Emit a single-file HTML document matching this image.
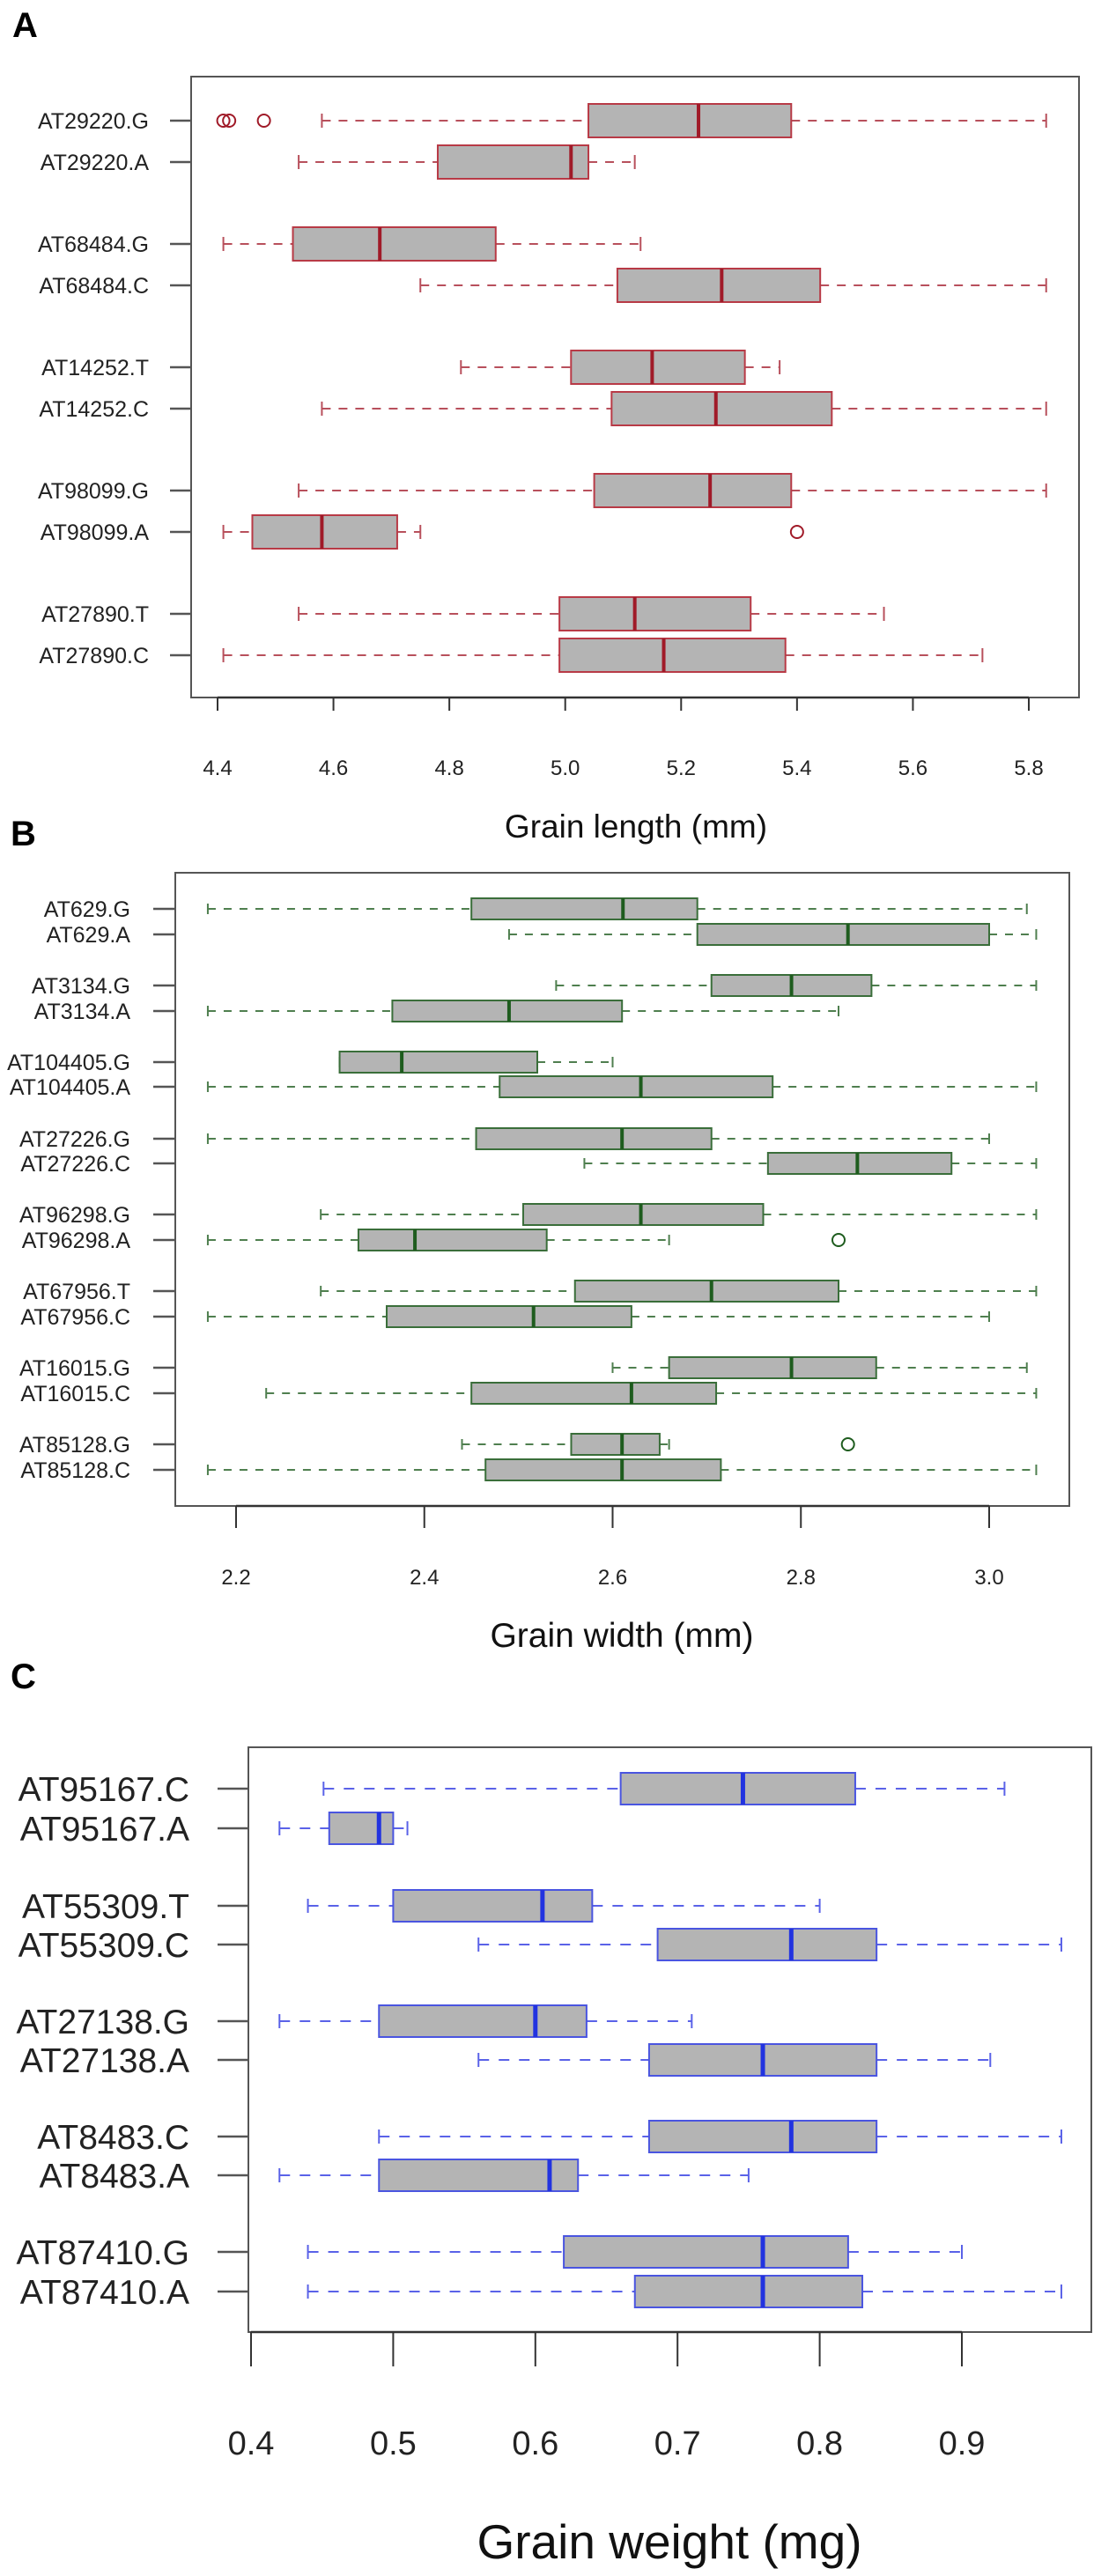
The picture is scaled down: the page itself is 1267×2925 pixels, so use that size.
<!DOCTYPE html>
<html><head><meta charset="utf-8"><style>
html,body{margin:0;padding:0;background:#fff;}
svg{display:block;font-family:"Liberation Sans",Arial,sans-serif;}
</style></head><body>
<svg id="fig" width="1267" height="2925" viewBox="0 0 1267 2925">
<text x="14" y="42" font-size="40" font-weight="bold">A</text>
<text x="12" y="960" font-size="40" font-weight="bold">B</text>
<text x="12" y="1917" font-size="40" font-weight="bold">C</text>
</svg>
<script>
// Panel A: grain length
const labelsA=["AT29220.G","AT29220.A","AT68484.G","AT68484.C","AT14252.T","AT14252.C","AT98099.G","AT98099.A","AT27890.T","AT27890.C"];
const lowA=[4.58,4.54,4.41,4.75,4.82,4.58,4.54,4.41,4.54,4.41];
const q1A=[5.04,4.78,4.53,5.09,5.01,5.08,5.05,4.46,4.99,4.99];
const medA=[5.23,5.01,4.68,5.27,5.15,5.26,5.25,4.58,5.12,5.17];
const q3A=[5.39,5.04,4.88,5.44,5.31,5.46,5.39,4.71,5.32,5.38];
const highA=[5.83,5.12,5.13,5.83,5.37,5.83,5.83,4.75,5.55,5.72];
const outA=[[4.41,4.42,4.48],[],[],[],[],[],[],[5.40],[],[]];
const ticksA=["4.4","4.6","4.8","5.0","5.2","5.4","5.6","5.8"];
// Panel B: grain width
const labelsB=["AT629.G","AT629.A","AT3134.G","AT3134.A","AT104405.G","AT104405.A","AT27226.G","AT27226.C","AT96298.G","AT96298.A","AT67956.T","AT67956.C","AT16015.G","AT16015.C","AT85128.G","AT85128.C"];
const lowB=[2.17,2.49,2.54,2.17,2.31,2.17,2.17,2.57,2.29,2.17,2.29,2.17,2.60,2.232,2.44,2.17];
const q1B=[2.45,2.69,2.705,2.366,2.31,2.48,2.455,2.765,2.505,2.33,2.56,2.36,2.66,2.45,2.556,2.465];
const medB=[2.611,2.85,2.79,2.49,2.376,2.63,2.61,2.86,2.63,2.39,2.705,2.516,2.79,2.62,2.61,2.61];
const q3B=[2.69,3.0,2.875,2.61,2.52,2.77,2.705,2.96,2.76,2.53,2.84,2.62,2.88,2.71,2.65,2.715];
const highB=[3.04,3.05,3.05,2.84,2.60,3.05,3.0,3.05,3.05,2.66,3.05,3.0,3.04,3.05,2.66,3.05];
const outB=[[],[],[],[],[],[],[],[],[],[2.84],[],[],[],[],[2.85],[]];
const ticksB=["2.2","2.4","2.6","2.8","3.0"];
// Panel C: grain weight
const labelsC=["AT95167.C","AT95167.A","AT55309.T","AT55309.C","AT27138.G","AT27138.A","AT8483.C","AT8483.A","AT87410.G","AT87410.A"];
const lowC=[0.451,0.42,0.44,0.56,0.42,0.56,0.49,0.42,0.44,0.44];
const q1C=[0.66,0.455,0.50,0.686,0.49,0.68,0.68,0.49,0.62,0.67];
const medC=[0.746,0.49,0.605,0.78,0.60,0.76,0.78,0.61,0.76,0.76];
const q3C=[0.825,0.50,0.64,0.84,0.636,0.84,0.84,0.63,0.82,0.83];
const highC=[0.93,0.51,0.80,0.97,0.71,0.92,0.97,0.75,0.90,0.97];
const outC=[[],[],[],[],[],[],[],[],[],[]];
const ticksC=["0.4","0.5","0.6","0.7","0.8","0.9"];

const NS="http://www.w3.org/2000/svg";
const svg=document.getElementById('fig');
function mk(tag,attrs,parent){const e=document.createElementNS(NS,tag);for(const k in attrs)e.setAttribute(k,attrs[k]);(parent||svg).appendChild(e);return e;}

function panel(p,labels,low,q1,med,q3,high,outs,ticks){
  const g=mk('g',{});
  
  
  const x=v=>p.x0+(v-p.d0)/(p.d1-p.d0)*(p.x1-p.x0);
  const f=mk('rect',{x:p.bl,y:p.bt,width:p.br-p.bl,height:p.bb-p.bt,fill:'none',stroke:'#555',"stroke-width":2},g);
  
  
  // x axis
  const ax=mk('line',{x1:x(p.d0),x2:x(p.d1),y1:p.bb,y2:p.bb,stroke:'#333',"stroke-width":2.5},g);
  
  
  ticks.forEach(t=>{
    const v=parseFloat(t);
    mk('line',{x1:x(v),x2:x(v),y1:p.bb,y2:p.tickEnd,stroke:'#333',"stroke-width":2},g);
    const tl=mk('text',{x:x(v),y:p.tickLabelY,"font-size":p.tickFont,"text-anchor":"middle",fill:'#222'},g);
    tl.textContent=t;
    
    
  });
  const ti=mk('text',{x:p.titleX,y:p.titleY,"font-size":p.titleFont,"text-anchor":"middle",fill:'#111'},g);
  ti.textContent=p.title;
  
  
  labels.forEach((lab,i)=>{
    const y=p.rows[i];
    mk('line',{x1:p.ytk,x2:p.bl,y1:y,y2:y,stroke:'#555',"stroke-width":2.5},g);
    const tl=mk('text',{x:p.labX,y:y+p.labFont*0.36,"font-size":p.labFont,"text-anchor":"end",fill:'#222'},g);
    tl.textContent=lab;
    
    
    const bg=mk('g',{},g);
    
    
    const h=p.hh, c=p.capH;
    mk('line',{x1:x(low[i]),x2:x(q1[i]),y1:y,y2:y,stroke:p.wc,"stroke-width":2,"stroke-dasharray":p.dash},bg);
    mk('line',{x1:x(q3[i]),x2:x(high[i]),y1:y,y2:y,stroke:p.wc,"stroke-width":2,"stroke-dasharray":p.dash},bg);
    mk('line',{x1:x(low[i]),x2:x(low[i]),y1:y-c,y2:y+c,stroke:p.wc,"stroke-width":2},bg);
    mk('line',{x1:x(high[i]),x2:x(high[i]),y1:y-c,y2:y+c,stroke:p.wc,"stroke-width":2},bg);
    mk('rect',{x:x(q1[i]),y:y-h,width:x(q3[i])-x(q1[i]),height:2*h,fill:'#b4b4b4',stroke:p.bc,"stroke-width":2},bg);
    mk('line',{x1:x(med[i]),x2:x(med[i]),y1:y-h,y2:y+h,stroke:p.mc,"stroke-width":p.mw},bg);
    outs[i].forEach(o=>{
      const oc=mk('circle',{cx:x(o),cy:y,r:p.or,fill:'none',stroke:p.mc,"stroke-width":2},g);
      
      
    });
  });
}

panel({name:'panel-a',d0:4.4,d1:5.8,x0:247,x1:1168,bl:217,br:1225,bt:87,bb:792,tickEnd:807,tickLabelY:880,tickFont:24,
  title:'Grain length (mm)',titleX:722,titleY:951,titleFont:37,rows:[137,184,277,324,417,464,557,604,697,744],
  ytk:193,labX:169,labFont:25,hh:19,capH:8,dash:'10 9',wc:'#b8505c',bc:'#b83a46',mc:'#a01a28',mw:4,or:7},
  labelsA,lowA,q1A,medA,q3A,highA,outA,ticksA);

panel({name:'panel-b',d0:2.2,d1:3.0,x0:268,x1:1123,bl:199,br:1214,bt:991,bb:1710,tickEnd:1735,tickLabelY:1799,tickFont:24,
  title:'Grain width (mm)',titleX:706,titleY:1870,titleFont:39,rows:[1032,1061,1119,1148,1206,1234,1293,1321,1379,1408,1466,1495,1553,1582,1640,1669],
  ytk:174,labX:148,labFont:25,hh:12,capH:6,dash:'9 9',wc:'#4f7f4f',bc:'#3a6e3a',mc:'#1e5c1e',mw:4,or:7},
  labelsB,lowB,q1B,medB,q3B,highB,outB,ticksB);

panel({name:'panel-c',d0:0.4,d1:0.9,x0:285,x1:1092,bl:282,br:1239,bt:1984,bb:2648,tickEnd:2687,tickLabelY:2787,tickFont:38,
  title:'Grain weight (mg)',titleX:760,titleY:2905,titleFont:55,rows:[2031,2076,2164,2208,2295,2339,2426,2470,2557,2602],
  ytk:247,labX:215,labFont:39,hh:18,capH:8,dash:'12 11',wc:'#5a62e8',bc:'#4a55e0',mc:'#2233e0',mw:5,or:7},
  labelsC,lowC,q1C,medC,q3C,highC,outC,ticksC);
</script>
</body></html>
